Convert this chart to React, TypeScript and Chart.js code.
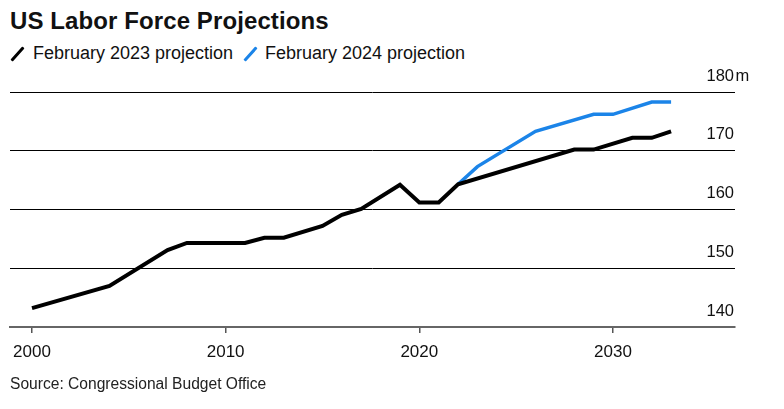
import React, { useEffect, useRef } from "react";
import { Chart, registerables } from "chart.js";

Chart.register(...registerables);

const TITLE = "US Labor Force Projections";
const SOURCE = "Source: Congressional Budget Office";
const SERIES_2023_LABEL = "February 2023 projection";
const SERIES_2024_LABEL = "February 2024 projection";

const years2023 = [2000, 2004, 2007, 2008, 2011, 2012, 2013, 2015, 2016, 2017, 2019, 2020, 2021, 2022, 2028, 2029, 2031, 2032, 2033];
const values2023 = [143.2, 147.0, 153.1, 154.3, 154.3, 155.2, 155.2, 157.2, 159.1, 160.1, 164.2, 161.2, 161.2, 164.3, 170.2, 170.2, 172.2, 172.2, 173.3];

const years2024 = [2022, 2023, 2026, 2029, 2030, 2032, 2033];
const values2024 = [164.3, 167.3, 173.3, 176.2, 176.2, 178.3, 178.3];

const xTicks = [2000, 2010, 2020, 2030];
const yTicks = [140, 150, 160, 170, 180];
const yUnit = "m";

const BLACK = "#000000";
const BLUE = "#1b84e8";
const FONT = "'Liberation Sans', Arial, sans-serif";

export default function App() {
  const ref = useRef<HTMLCanvasElement | null>(null);

  useEffect(() => {
    document.body.style.margin = "0";
    const canvas = ref.current;
    if (!canvas) return;

    const unitPlugin = {
      id: "unitPlugin",
      afterDraw(chart: any) {
        const y = chart.scales.y;
        const top = yTicks[yTicks.length - 1];
        const py = y.getPixelForValue(top);
        const ctx = chart.ctx;
        ctx.save();
        ctx.font = `16.5px ${FONT}`;
        ctx.fillStyle = "#111";
        ctx.textAlign = "left";
        ctx.textBaseline = "middle";
        ctx.fillText(yUnit, chart.chartArea.right + 0.5, py - 16);
        ctx.restore();
      },
    };

    const chart = new Chart(canvas, {
      type: "line",
      data: {
        datasets: [
          {
            label: SERIES_2023_LABEL,
            data: years2023.map((x, i) => ({ x, y: values2023[i] })),
            borderColor: BLACK,
            borderWidth: 4,
            pointRadius: 0,
            tension: 0,
            order: 0,
          },
          {
            label: SERIES_2024_LABEL,
            data: years2024.map((x, i) => ({ x, y: values2024[i] })),
            borderColor: BLUE,
            borderWidth: 3.5,
            pointRadius: 0,
            tension: 0,
            order: 1,
          },
        ],
      },
      options: {
        animation: false,
        responsive: false,
        maintainAspectRatio: false,
        layout: { padding: { left: 10, right: 49, top: 92, bottom: 52 } },
        plugins: {
          legend: { display: false },
          tooltip: { enabled: false },
        },
        scales: {
          x: {
            type: "linear",
            min: 1998.864,
            max: 2036.3,
            afterBuildTicks: (scale: any) => {
              scale.ticks = xTicks.map((v) => ({ value: v }));
            },
            afterFit: (scale: any) => {
              scale.height = 30;
            },
            grid: {
              display: true,
              drawOnChartArea: false,
              drawTicks: true,
              tickLength: 6,
              color: "#555",
              lineWidth: 1.5,
            },
            border: { display: true, color: "#666", width: 2 },
            ticks: {
              font: { family: FONT, size: 17 },
              color: "#111",
              padding: 9,
              maxRotation: 0,
              callback: (v: any) => String(v),
            },
          },
          y: {
            type: "linear",
            position: "right",
            min: 140,
            max: 180,
            afterBuildTicks: (scale: any) => {
              scale.ticks = yTicks.map((v) => ({ value: v }));
            },
            afterFit: (scale: any) => {
              scale.width = 0;
            },
            grid: {
              drawTicks: false,
              color: (ctx: any) => (ctx.tick && ctx.tick.value === yTicks[0] ? "rgba(0,0,0,0)" : "#000"),
              lineWidth: 1,
            },
            border: { display: false },
            ticks: {
              mirror: true,
              padding: -1,
              labelOffset: -16,
              font: { family: FONT, size: 16.5 },
              color: "#111",
              callback: (v: any) => String(v),
            },
          },
        },
      },
      plugins: [unitPlugin],
    });
    return () => chart.destroy();
  }, []);

  const slash = (color: string, left: number) => (
    <span
      style={{
        position: "absolute",
        left,
        top: 45,
        width: 3,
        height: 18,
        background: color,
        transform: "rotate(42deg)",
        borderRadius: 1,
      }}
    />
  );

  return (
    <div style={{ position: "fixed", left: 0, top: 0, width: 784, height: 409, background: "#fff", fontFamily: FONT, color: "#111" }}>
      <div style={{ position: "absolute", left: 10, top: 7, fontSize: 24, fontWeight: 700, letterSpacing: 0.1, whiteSpace: "nowrap", lineHeight: "28px" }}>
        {TITLE}
      </div>
      {slash(BLACK, 16)}
      <div style={{ position: "absolute", left: 33, top: 43, fontSize: 18, lineHeight: "20px", whiteSpace: "nowrap" }}>
        {SERIES_2023_LABEL}
      </div>
      {slash(BLUE, 249)}
      <div style={{ position: "absolute", left: 265, top: 43, fontSize: 18, lineHeight: "20px", whiteSpace: "nowrap" }}>
        {SERIES_2024_LABEL}
      </div>
      <canvas ref={ref} width={784} height={409} style={{ position: "absolute", left: 0, top: 0, width: 784, height: 409 }} />
      <div style={{ position: "absolute", left: 10, top: 375, fontSize: 15.6, lineHeight: "18px", color: "#222", whiteSpace: "nowrap" }}>
        {SOURCE}
      </div>
    </div>
  );
}
